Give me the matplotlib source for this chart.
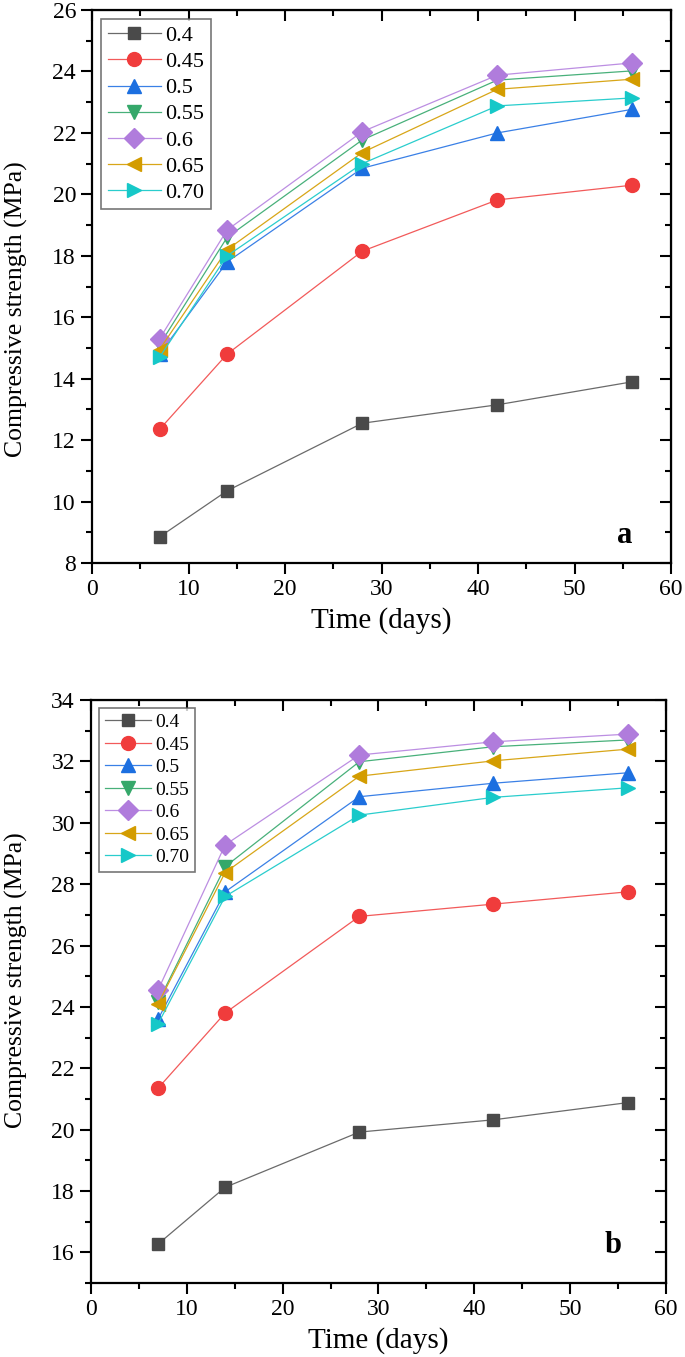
import numpy as np
import matplotlib
matplotlib.use("Agg")
import matplotlib.pyplot as plt
from matplotlib.ticker import MultipleLocator

plt.rcParams['font.family'] = ['Liberation Serif', 'DejaVu Serif']

# ages de mesure (jours)
days = [7, 14, 28, 42, 56]
labels = ["0.4", "0.45", "0.5", "0.55", "0.6", "0.65", "0.70"]

# panneau a
a_04 = [8.85, 10.35, 12.55, 13.15, 13.9]
a_045 = [12.35, 14.8, 18.15, 19.82, 20.3]
a_05 = [14.8, 17.8, 20.85, 22.0, 22.77]
a_055 = [15.1, 18.6, 21.77, 23.72, 24.02]
a_06 = [15.3, 18.84, 22.04, 23.88, 24.28]
a_065 = [14.95, 18.2, 21.36, 23.42, 23.75]
a_070 = [14.7, 18.0, 21.0, 22.88, 23.14]

# panneau b
b_04 = [16.27, 18.12, 19.92, 20.32, 20.88]
b_045 = [21.35, 23.8, 26.95, 27.35, 27.75]
b_05 = [23.6, 27.75, 30.85, 31.29, 31.63]
b_055 = [24.15, 28.57, 31.99, 32.48, 32.7]
b_06 = [24.55, 29.28, 32.21, 32.64, 32.89]
b_065 = [24.1, 28.38, 31.52, 32.02, 32.4]
b_070 = [23.45, 27.6, 30.25, 30.83, 31.14]

series_a = [a_04, a_045, a_05, a_055, a_06, a_065, a_070]
series_b = [b_04, b_045, b_05, b_055, b_06, b_065, b_070]

markers = ["s", "o", "^", "v", "D", "<", ">"]
mcolors = ["#4a4a4a", "#f03c3c", "#1c6fe0", "#35a86a", "#b07cdc", "#d39c00", "#16c8c8"]
lcolors = ["#6a6a6a", "#f25a5a", "#3a80e6", "#48b07a", "#bc8ee2", "#d8a618", "#2acdcd"]
msizes = [9, 10, 10, 10, 10, 10, 10]

fig = plt.figure(figsize=(6.85, 13.57), dpi=100)
ax1 = fig.add_axes([0.1343, 0.5851, 0.8453, 0.4075])
ax2 = fig.add_axes([0.1328, 0.0545, 0.8394, 0.4296])


def draw(ax, series, ylim, leg_fs, letter, lpos, ylab_y):
    for s, lab, m, mc, lc, ms in zip(series, labels, markers, mcolors, lcolors, msizes):
        ax.plot(days, s, color=lc, lw=0.9, marker=m, markersize=ms,
                markerfacecolor=mc, markeredgecolor=mc, label=lab)
    ax.set_xlim(0, 60)
    ax.set_ylim(*ylim)
    ax.xaxis.set_major_locator(MultipleLocator(10))
    ax.xaxis.set_minor_locator(MultipleLocator(5))
    ax.yaxis.set_major_locator(MultipleLocator(2))
    ax.yaxis.set_minor_locator(MultipleLocator(1))
    ax.tick_params(which='both', direction='out', top=False, right=False,
                   labelsize=17, width=1.5)
    ax.tick_params(which='major', length=8)
    ax.tick_params(which='minor', length=4)
    for sp in ax.spines.values():
        sp.set_linewidth(1.6)
    # ticks vers l'interieur en haut et a droite
    top = ax.secondary_xaxis('top')
    top.xaxis.set_major_locator(MultipleLocator(10))
    top.xaxis.set_minor_locator(MultipleLocator(5))
    top.tick_params(which='both', direction='in', labeltop=False, width=1.5)
    top.tick_params(which='major', length=8)
    top.tick_params(which='minor', length=4)
    right = ax.secondary_yaxis('right')
    right.yaxis.set_major_locator(MultipleLocator(2))
    right.yaxis.set_minor_locator(MultipleLocator(1))
    right.tick_params(which='both', direction='in', labelright=False, width=1.5)
    right.tick_params(which='major', length=8)
    right.tick_params(which='minor', length=4)
    ax.set_xlabel("Time (days)", fontsize=21, labelpad=5)
    ax.set_ylabel("Compressive strength (MPa)", fontsize=18.5)
    ax.yaxis.set_label_coords(-0.11, ylab_y)
    leg = ax.legend(loc='upper left', fontsize=leg_fs, frameon=True, fancybox=False,
                    edgecolor='#555555', handlelength=2.4, handletextpad=0.2,
                    labelspacing=0.25, borderpad=0.3, borderaxespad=0.4)
    leg.get_frame().set_linewidth(1.2)
    ax.text(lpos[0], lpos[1], letter, transform=ax.transAxes, fontsize=22,
            fontweight='bold', ha='center', va='center')


draw(ax1, series_a, (8, 26), 16, "a", (0.92, 0.05), 0.46)
draw(ax2, series_b, (15, 34), 14, "b", (0.908, 0.065), 0.52)

fig.savefig("out.png", dpi=100)
